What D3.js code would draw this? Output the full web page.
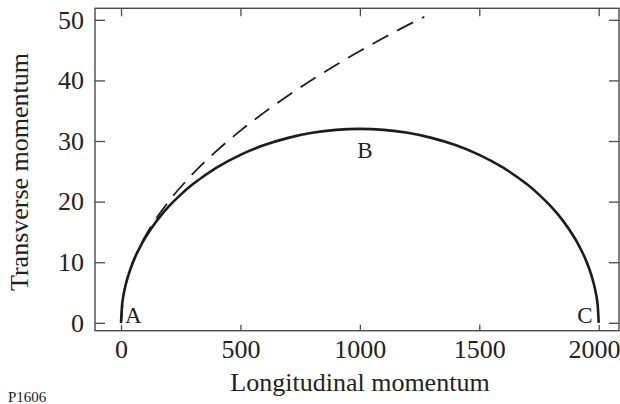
<!DOCTYPE html>
<html><head><meta charset="utf-8">
<script src="https://cdn.jsdelivr.net/npm/d3@7"></script>
<style>body{margin:0;background:#fff}svg{display:block}</style>
</head><body><svg id="c" width="620" height="404"></svg>
<script>
// Solid curve (kinematic boundary)
const solidX = [0,5,10,20,40,60,80,100,150,200,250,300,400,500,600,700,800,900,1000,1100,1200,1300,1400,1500,1600,1700,1750,1800,1850,1900,1920,1940,1960,1980,1990,1995,2000];
const solidY = [0,3.2,4.51,6.37,8.96,10.92,12.54,13.95,16.86,19.2,21.16,22.85,25.6,27.71,29.33,30.52,31.35,31.84,32.0,31.84,31.35,30.52,29.33,27.71,25.6,22.85,21.16,19.2,16.86,13.95,12.54,10.92,8.96,6.37,4.51,3.2,0];
// Dashed curve
const dashX = [0,10,25,50,100,150,200,300,400,500,600,700,800,900,1000,1100,1200,1270];
const dashY = [0,4.48,7.09,10.03,14.18,17.37,20.05,24.56,28.36,31.71,34.73,37.52,40.11,42.54,44.84,47.03,49.12,50.5];
const xTicks = [0,500,1000,1500,2000];
const yTicks = [0,10,20,30,40,50];
const pointLabels = ["A","B","C"];

const FONT = '"Liberation Serif","Times New Roman",serif';
const svg = d3.select("#c");
const L=95,R=619,T=8.3,B=330.7;
const x = d3.scaleLinear().domain([-109,2085]).range([L,R]);
const y = d3.scaleLinear().domain([-1.3,51.9]).range([B,T]);
const ink="#1c1c1c", frame="#4a4a4a";

// axes
const gb = svg.append("g").attr("transform",`translate(0,${B})`)
  .call(d3.axisBottom(x).tickValues(xTicks).tickSizeInner(-6).tickSizeOuter(0).tickPadding(9).tickFormat(d3.format("d")));
const gt = svg.append("g").attr("transform",`translate(0,${T})`)
  .call(d3.axisTop(x).tickValues(xTicks).tickSizeInner(-8).tickSizeOuter(0).tickFormat(""));
const gl = svg.append("g").attr("transform",`translate(${L},0)`)
  .call(d3.axisLeft(y).tickValues(yTicks).tickSizeInner(-10).tickSizeOuter(0).tickPadding(11).tickFormat(d3.format("d")));
const gr = svg.append("g").attr("transform",`translate(${R},0)`)
  .call(d3.axisRight(y).tickValues(yTicks).tickSizeInner(-10).tickSizeOuter(0).tickFormat(""));
[gb,gt,gl,gr].forEach(g=>{
  g.attr("font-family",null).attr("font-size",null);
  g.select(".domain").remove();
  g.selectAll("line").attr("stroke",frame).attr("stroke-width",1.3);
  g.selectAll("text").style("font-family",FONT).style("font-size","26px").style("fill","#222");
});
// keep the last x label inside the page
gb.selectAll(".tick text").filter(d=>d===2000).attr("text-anchor","end").attr("x",R+1-x(2000));

svg.append("rect").attr("x",L).attr("y",T).attr("width",R-L).attr("height",B-T)
  .attr("fill","none").attr("stroke",frame).attr("stroke-width",1.4);

const line = d3.line().x(d=>x(d[0])).y(d=>y(d[1])).curve(d3.curveMonotoneX);
svg.append("path").datum(dashX.map((v,i)=>[v,dashY[i]])).attr("d",line)
  .attr("fill","none").attr("stroke",ink).attr("stroke-width",1.8).attr("stroke-dasharray","18,10");
const lineS = d3.line().x(d=>x(d[0])).y(d=>y(d[1])).curve(d3.curveCatmullRom.alpha(0.5));
svg.append("path").datum(solidX.map((v,i)=>[v,solidY[i]])).attr("d",lineS)
  .attr("fill","none").attr("stroke",ink).attr("stroke-width",2.6);

const txt = (s)=>svg.append("text").style("font-family",FONT).style("fill","#222").text(s);
// point labels
txt(pointLabels[0]).attr("x",x(0)+4).attr("y",y(0)).style("font-size","23px");
txt(pointLabels[1]).attr("x",x(1000)+5).attr("y",y(32)+29).attr("text-anchor","middle").style("font-size","23px");
txt(pointLabels[2]).attr("x",x(2000)-6).attr("y",y(0)).attr("text-anchor","end").style("font-size","23px");

// axis titles
txt("Longitudinal momentum").attr("x",360).attr("y",391).attr("text-anchor","middle").style("font-size","26px");
txt("Transverse momentum").attr("transform","translate(28,172) rotate(-90)").attr("text-anchor","middle").style("font-size","26px");
txt("P1606").attr("x",8).attr("y",402).style("font-size","15px");
</script></body></html>
